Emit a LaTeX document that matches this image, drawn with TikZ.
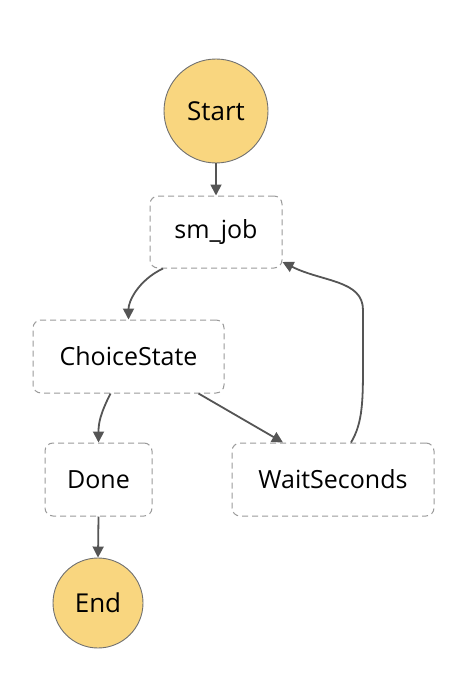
\documentclass[tikz,border=0pt]{standalone}
\usepackage{fontspec}
\setmainfont{Open Sans}
\usetikzlibrary{arrows.meta}
\definecolor{startfill}{HTML}{F9D67F}
\definecolor{circborder}{HTML}{707070}
\definecolor{boxborder}{HTML}{9A9A9A}
\definecolor{arrowcol}{HTML}{555555}
\tikzset{
  endpoint/.style={circle, fill=startfill, draw=circborder, line width=0.9pt, font=\fontsize{26}{30}\selectfont},
  statebox/.style={rectangle, rounded corners=8pt, draw=boxborder, line width=1pt, dash pattern=on 6pt off 4pt, fill=white, font=\fontsize{25}{30}\selectfont},
  flow/.style={draw=arrowcol, line width=1.8pt, -{Triangle[length=11pt,width=11pt]}},
}
\begin{document}
\begin{tikzpicture}[x=1pt,y=-1pt]
\useasboundingbox (0,0) rectangle (476,674);
\node[endpoint, minimum size=104pt] (start) at (216,111) {Start};
\node[statebox, minimum width=132pt, minimum height=72pt] (smjob) at (216,232) {sm\_job};
\node[statebox, minimum width=191pt, minimum height=73pt] (choice) at (128.5,356.5) {ChoiceState};
\node[statebox, minimum width=107pt, minimum height=73pt] (done) at (98.5,479.5) {Done};
\node[statebox, minimum width=202pt, minimum height=73pt] (wait) at (333,479.5) {WaitSeconds};
\node[endpoint, minimum size=90pt] (end) at (98,603) {End};
\coordinate (smjobbl) at ([xshift=-53pt]smjob.south);
\coordinate (choicetop) at ([xshift=0pt]choice.north);
\coordinate (choicebl) at ([xshift=-18pt]choice.south);
\coordinate (choicebr) at ([xshift=70pt]choice.south);
\coordinate (waittl) at ([xshift=-50pt]wait.north);
\coordinate (waittr) at ([xshift=18pt]wait.north);
\coordinate (smjobr) at ([yshift=-30pt]smjob.east);
\draw[flow] (start.south) -- (smjob.north);
\draw[flow] (smjobbl) .. controls +(-25,12) and +(0,-18) .. (choicetop);
\draw[flow] (choicebl) .. controls +(-10,20) and +(0,-20) .. (done.north);
\draw[flow] (choicebr) -- (waittl);
\draw[flow] (waittr) .. controls +(12,-20) and +(0,40) .. (363,360) -- (363,310) .. controls +(0,-30) and +(40,20) .. (smjobr);
\draw[flow] (done.south) -- (end.north);
\end{tikzpicture}
\end{document}
